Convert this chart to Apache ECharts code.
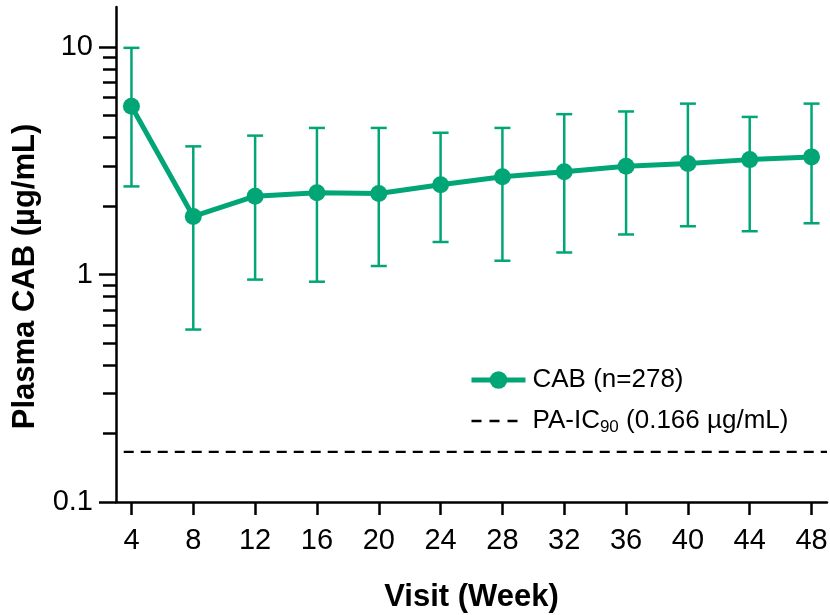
<!DOCTYPE html>
<html>
<head>
<meta charset="utf-8">
<script src="https://cdn.jsdelivr.net/npm/echarts@6/dist/echarts.min.js"></script>
<style>html,body{margin:0;padding:0;background:#fff}#c{width:830px;height:615px}</style>
</head>
<body>
<div id="c"></div>
<script>
const weeks = [4, 8, 12, 16, 20, 24, 28, 32, 36, 40, 44, 48];
const meanCAB = [5.49, 1.80, 2.21, 2.29, 2.27, 2.48, 2.69, 2.83, 2.99, 3.08, 3.20, 3.29];
const upperCAB = [9.92, 3.66, 4.08, 4.41, 4.41, 4.20, 4.41, 5.07, 5.21, 5.64, 4.93, 5.64];
const lowerCAB = [2.44, 0.573, 0.95, 0.93, 1.09, 1.39, 1.15, 1.25, 1.50, 1.63, 1.55, 1.68];
const paIC90 = 0.166;
const paLineX = [3.5, 49];
const yMajorTicks = [0.1, 1, 10];
const yMinorTicks = [0.2, 0.3, 0.4, 0.5, 0.6, 0.7, 0.8, 0.9, 2, 3, 4, 5, 6, 7, 8, 9];

const GREEN = '#02A676';
const FONT = '"Liberation Sans", Arial, Helvetica, sans-serif';

const chart = echarts.init(document.getElementById('c'), null, {renderer: 'canvas'});

const lineData = weeks.map((w, i) => [w, meanCAB[i]]);
const errData = weeks.map((w, i) => [w, lowerCAB[i], upperCAB[i]]);
const paData = paLineX.map(x => [x, paIC90]);

const option = {
  animation: false,
  backgroundColor: '#fff',
  grid: {left: 116, right: 3, top: 7, bottom: 113, containLabel: false, outerBoundsMode: 'none'},
  legend: {
    orient: 'vertical',
    left: 464,
    top: 360,
    itemWidth: 54,
    itemHeight: 22,
    itemGap: 10,
    lineStyle: {width: 'inherit'},
    data: [
      {name: 'CAB (n=278)'},
      {name: 'PA-IC90', itemStyle: {opacity: 0}, lineStyle: {width: 2.5, type: [10, 8]}}
    ],
    formatter: function (name) {
      if (name === 'PA-IC90') return '{n|PA-IC}{s|90}{n| (0.166 µg/mL)}';
      return '{n|' + name + '}';
    },
    textStyle: {
      fontFamily: FONT,
      fontSize: 26,
      color: '#000',
      lineHeight: 30,
      padding: [0, 0, 0, 2],
      rich: {
        n: {fontFamily: FONT, fontSize: 26, color: '#000', lineHeight: 30},
        s: {fontFamily: FONT, fontSize: 17, color: '#000', lineHeight: 30, verticalAlign: 'bottom', padding: [14, 0, 0, 0]}
      }
    }
  },
  xAxis: {
    type: 'value',
    min: 3,
    max: 49,
    name: 'Visit (Week)',
    nameLocation: 'middle',
    nameGap: 80,
    nameTextStyle: {fontFamily: FONT, fontSize: 31, fontWeight: 'bold', color: '#000'},
    axisLine: {show: true, lineStyle: {color: '#000', width: 2.5}},
    axisTick: {show: true, length: 13, lineStyle: {color: '#000', width: 2.5}, customValues: weeks},
    axisLabel: {show: true, customValues: weeks, margin: 24, fontFamily: FONT, fontSize: 29, color: '#000'},
    splitLine: {show: false}
  },
  yAxis: [
    {
      type: 'log',
      logBase: 10,
      min: 0.1,
      max: 15,
      position: 'left',
      name: 'Plasma CAB (µg/mL)',
      nameLocation: 'middle',
      nameGap: 75,
      nameRotate: 90,
      nameTextStyle: {fontFamily: FONT, fontSize: 31, fontWeight: 'bold', color: '#000', padding: [0, 44, 0, 0]},
      axisLine: {show: true, lineStyle: {color: '#000', width: 2.5}},
      axisTick: {show: true, length: 17, lineStyle: {color: '#000', width: 2.5}, customValues: yMajorTicks},
      axisLabel: {show: true, customValues: yMajorTicks, margin: 23, fontFamily: FONT, fontSize: 29, color: '#000',
        formatter: v => String(v)},
      splitLine: {show: false}
    },
    {
      type: 'log',
      logBase: 10,
      min: 0.1,
      max: 15,
      position: 'left',
      offset: 0,
      axisLine: {show: false},
      axisTick: {show: true, length: 13, lineStyle: {color: '#000', width: 2.5}, customValues: yMinorTicks},
      axisLabel: {show: false},
      splitLine: {show: false}
    }
  ],
  series: [
    {
      name: 'CAB (n=278)',
      type: 'line',
      data: lineData,
      yAxisIndex: 0,
      z: 4,
      symbol: 'circle',
      symbolSize: 17,
      itemStyle: {color: GREEN},
      lineStyle: {color: GREEN, width: 5}
    },
    {
      name: 'CAB errors',
      type: 'custom',
      yAxisIndex: 0,
      z: 3,
      data: errData,
      encode: {x: 0, y: [1, 2]},
      renderItem: function (params, api) {
        const x = api.value(0);
        const pLo = api.coord([x, api.value(1)]);
        const pHi = api.coord([x, api.value(2)]);
        const hw = 8;
        const style = {stroke: GREEN, lineWidth: 2.5};
        return {
          type: 'group',
          children: [
            {type: 'line', shape: {x1: pLo[0], y1: pLo[1], x2: pHi[0], y2: pHi[1]}, style: style},
            {type: 'line', shape: {x1: pLo[0] - hw, y1: pLo[1], x2: pLo[0] + hw, y2: pLo[1]}, style: style},
            {type: 'line', shape: {x1: pHi[0] - hw, y1: pHi[1], x2: pHi[0] + hw, y2: pHi[1]}, style: style}
          ]
        };
      }
    },
    {
      name: 'PA-IC90',
      type: 'line',
      data: paData,
      yAxisIndex: 0,
      symbol: 'none',
      z: 2,
      itemStyle: {color: '#000'},
      lineStyle: {color: '#000', width: 2.2, type: [10, 7]}
    }
  ]
};
chart.setOption(option);
</script>
</body>
</html>
